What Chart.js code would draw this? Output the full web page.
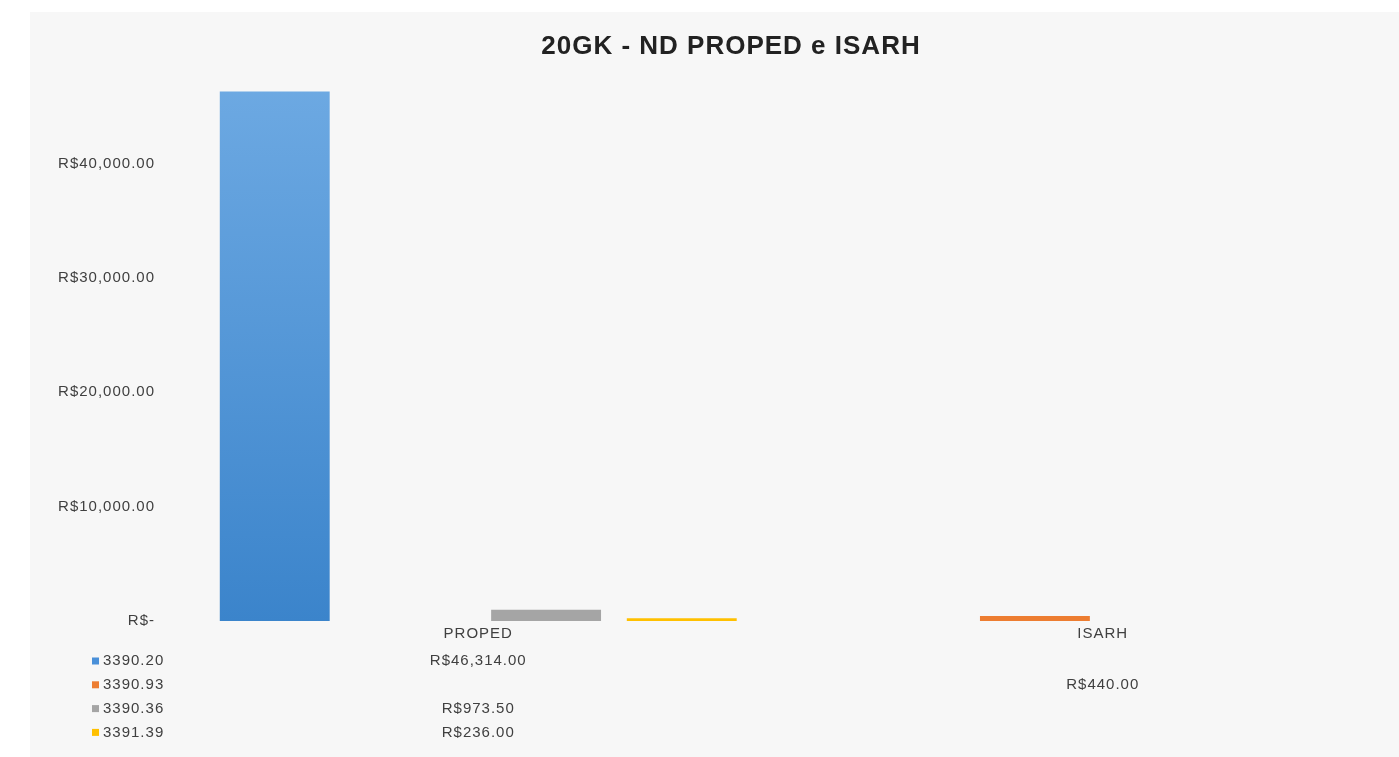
<!DOCTYPE html>
<html>
<head>
<meta charset="utf-8">
<script src="https://cdn.jsdelivr.net/npm/chart.js@4/dist/chart.umd.min.js"></script>
<style>
  html, body { margin: 0; padding: 0; background: #ffffff; overflow: hidden; width: 1399px; height: 757px; }
  #panel { position: absolute; left: 30px; top: 12px; width: 1402px; height: 745px; background: #f7f7f7; }
  canvas { display: block; }
</style>
</head>
<body>
<div id="panel"><canvas id="c" width="1402" height="745"></canvas></div>
<script>
// ---- data ----
const categories = ['PROPED', 'ISARH'];
const seriesNames = ['3390.20', '3390.93', '3390.36', '3391.39'];
const s339020 = [46314, null];
const s339093 = [null, 440];
const s339036 = [973.5, null];
const s339139 = [236, null];
const yTickValues = [0, 10000, 20000, 30000, 40000];
const yMax = 48000;
const chartTitle = '20GK - ND PROPED e ISARH';

const TEXT = '#404040';
const FONT = '"Liberation Sans", Arial, sans-serif';

function money(v) {
  if (v === 0) return 'R$-';
  return 'R$' + v.toLocaleString('en-US', { minimumFractionDigits: 2, maximumFractionDigits: 2 });
}

function blueGradient(context) {
  const chart = context.chart;
  const area = chart.chartArea;
  if (!area) return '#5b9bd5';
  const g = chart.ctx.createLinearGradient(0, area.top, 0, area.bottom);
  g.addColorStop(0, '#6eaae3');
  g.addColorStop(1, '#3b84cb');
  return g;
}

const spacingPlugin = {
  id: 'spacing',
  beforeDraw(chart) {
    chart.ctx.letterSpacing = '1px';
  }
};

const tablePlugin = {
  id: 'dataTable',
  afterDraw(chart) {
    const ctx = chart.ctx;
    const xs = chart.scales.x;
    const base = xs.bottom + 14;
    ctx.save();
    ctx.letterSpacing = '1px';
    ctx.font = '15px ' + FONT;
    ctx.textBaseline = 'middle';
    chart.data.datasets.forEach((ds, i) => {
      const y = base + i * 23.8;
      ctx.fillStyle = ds.keyColor;
      ctx.fillRect(62, y - 3.5, 7, 7);
      ctx.fillStyle = TEXT;
      ctx.textAlign = 'left';
      ctx.fillText(ds.label, 73, y);
      ds.data.forEach((v, j) => {
        if (v == null) return;
        ctx.textAlign = 'center';
        ctx.fillText(money(v), xs.getPixelForValue(j), y);
      });
    });
    ctx.restore();
  }
};

new Chart(document.getElementById('c'), {
  type: 'bar',
  data: {
    labels: categories,
    datasets: [
      { label: seriesNames[0], data: s339020, backgroundColor: blueGradient, keyColor: '#4a90d9' },
      { label: seriesNames[1], data: s339093, backgroundColor: '#ed7d31', keyColor: '#ed7d31' },
      { label: seriesNames[2], data: s339036, backgroundColor: '#a5a5a5', keyColor: '#a5a5a5' },
      { label: seriesNames[3], data: s339139, backgroundColor: '#ffc000', keyColor: '#ffc000' }
    ]
  },
  options: {
    responsive: false,
    animation: false,
    devicePixelRatio: 1,
    categoryPercentage: 0.869,
    barPercentage: 0.81,
    layout: { padding: { left: 17, right: 17, top: 0, bottom: 110 } },
    plugins: {
      legend: { display: false },
      tooltip: { enabled: false },
      title: {
        display: true,
        text: chartTitle,
        color: '#222222',
        font: { family: FONT, size: 26, weight: 'bold' },
        padding: { top: 19, bottom: 10 }
      }
    },
    scales: {
      x: {
        grid: { display: false, drawTicks: false },
        border: { display: false },
        ticks: { color: TEXT, font: { family: FONT, size: 15 }, padding: 4 }
      },
      y: {
        min: 0,
        max: yMax,
        grid: { display: false, drawTicks: false },
        border: { display: false },
        afterBuildTicks(scale) { scale.ticks = yTickValues.map(v => ({ value: v })); },
        afterFit(scale) { scale.width = 119; },
        ticks: {
          color: TEXT,
          font: { family: FONT, size: 15 },
          padding: 11,
          callback: (v) => money(v)
        }
      }
    }
  },
  plugins: [spacingPlugin, tablePlugin]
});
</script>
</body>
</html>
